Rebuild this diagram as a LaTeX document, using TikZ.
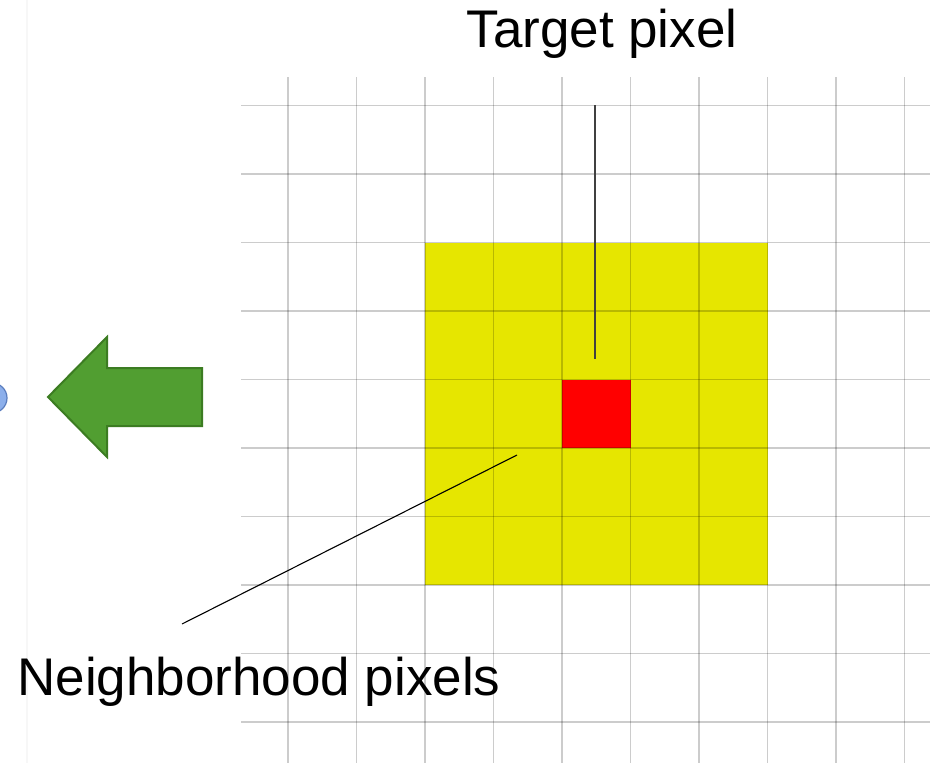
\documentclass[tikz,border=0pt]{standalone}
\usepackage{fontspec}
\setmainfont{Liberation Sans}
\usetikzlibrary{positioning}
\definecolor{HoodYellow}{RGB}{230,230,0}
\definecolor{TargetRed}{RGB}{255,0,0}
\definecolor{ArrowGreen}{RGB}{81,158,49}
\definecolor{ArrowEdge}{RGB}{60,124,34}
\definecolor{DotBlue}{RGB}{140,175,235}
\definecolor{DotEdge}{RGB}{90,125,190}

\begin{document}
\begin{tikzpicture}[x=1pt, y=-1pt,
    labeltext/.style={font=\fontsize{53}{60}\selectfont, anchor=base, inner sep=0pt},
    cellbox/.style={inner sep=0pt, outer sep=0pt, draw=none},
    gridline/.style={black, draw opacity=0.2, line width=1.8pt}]
      \clip (0,0) rectangle (930,763);
      \fill[white] (0,0) rectangle (930,763);
      % Left edge leftovers
      \draw[gray!6, line width=1.5pt] (27,0) -- (27,763);
      \draw[DotEdge, fill=DotBlue, line width=1.2pt] (-8,398) circle (15);
      % Green arrow
      \draw[ArrowEdge, fill=ArrowGreen, line width=2pt, line join=miter]
        (48,397) -- (107,337) -- (107,368) -- (202,368) -- (202,426) -- (107,426) -- (107,457) -- cycle;
      % Neighborhood and target pixels
      \node[cellbox, fill=HoodYellow, minimum size=342.5pt] (hood) at (596.25,413.75) {};
      \node[cellbox, fill=TargetRed, minimum size=68.5pt] (target) at (596.25,413.75) {};
      % Grid
      \foreach \k in {0,...,9} {
        \draw[gridline] (288+68.5*\k,77) -- (288+68.5*\k,763);
        \draw[gridline] (241,105.5+68.5*\k) -- (930,105.5+68.5*\k);
      }
      % Labels
      \node[labeltext] (tlabel) at (602,47) {Target pixel};
      \node[labeltext] (nlabel) at (259,695) {Neighborhood pixels};
      % Pointers
      \coordinate (ttop) at (595,105);
      \coordinate (tend) at (595,359);
      \coordinate (nstart) at (182,624);
      \coordinate (nend) at (517,455);
      \draw[black!75, line width=1.6pt] (ttop) -- (tend);
      \draw[black, line width=1.1pt] (nstart) -- (nend);
    \end{tikzpicture}
\end{document}
